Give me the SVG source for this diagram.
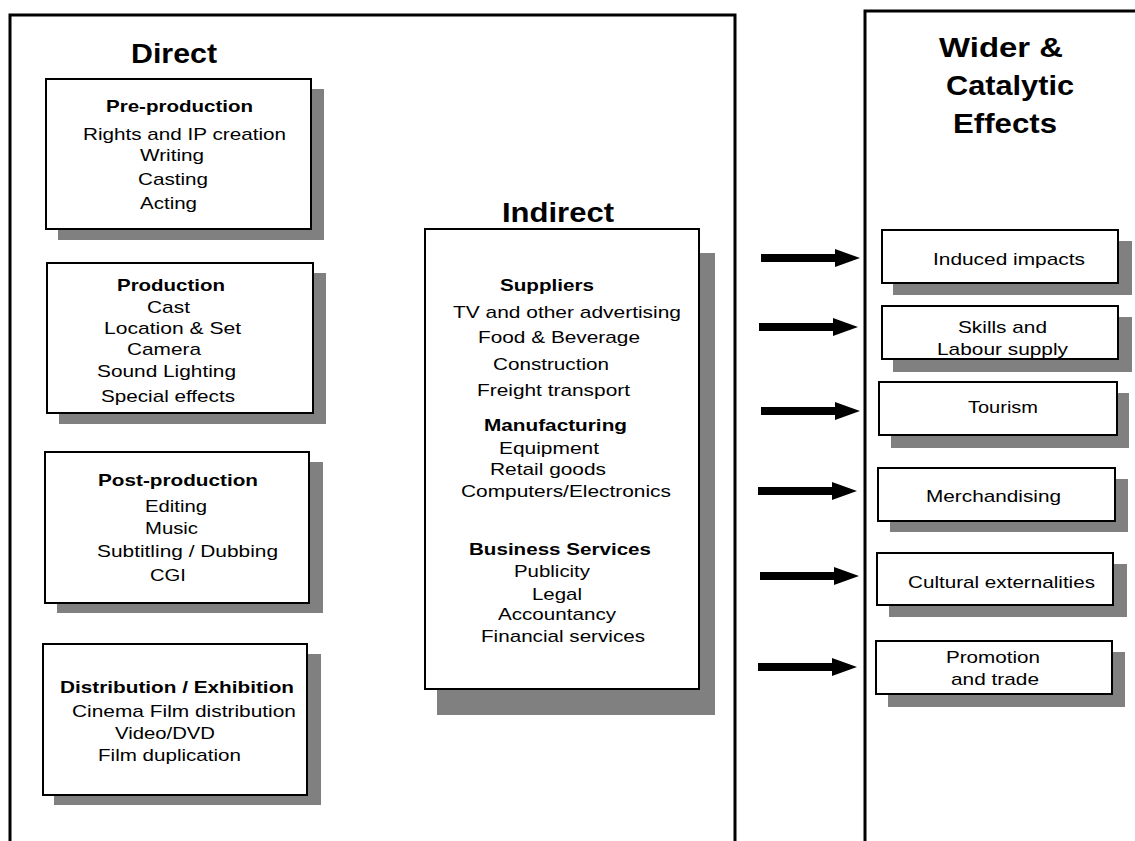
<svg xmlns="http://www.w3.org/2000/svg" width="1135" height="841" viewBox="0 0 1135 841">
<style>
  text { font-family: "Liberation Sans", Arial, sans-serif; fill: #000; }
  .t { font-size: 17px; }
  .b { font-size: 17px; font-weight: bold; }
  .h { font-size: 28px; font-weight: bold; }
  .box { fill: #fff; stroke: #000; stroke-width: 2; }
  .sh { fill: #808080; }
  .frame { fill: none; stroke: #000; stroke-width: 3; }
</style>
<defs>
  <path id="arrow" d="M0,-4 H74 V-9 L99,0 L74,9 V4 H0 Z" fill="#000"/>
</defs>
<rect width="1135" height="841" fill="#fff"/>

<g id="frames">
  <path class="frame" d="M10,841 V15 H735 V841"/>
  <path class="frame" d="M865,841 V11 H1135"/>
</g>

<g id="direct-title">
  <text class="h" x="131" y="63" textLength="86" lengthAdjust="spacingAndGlyphs">Direct</text>
</g>

<g id="pre-production">
  <rect class="sh" x="58" y="89" width="266" height="151"/>
  <rect class="box" x="46" y="79" width="265" height="150"/>
  <text class="b" x="106" y="112" textLength="147" lengthAdjust="spacingAndGlyphs">Pre-production</text>
  <text class="t" x="83" y="140" textLength="203" lengthAdjust="spacingAndGlyphs">Rights and IP creation</text>
  <text class="t" x="140" y="161" textLength="64" lengthAdjust="spacingAndGlyphs">Writing</text>
  <text class="t" x="138" y="185" textLength="70" lengthAdjust="spacingAndGlyphs">Casting</text>
  <text class="t" x="140" y="209" textLength="57" lengthAdjust="spacingAndGlyphs">Acting</text>
</g>

<g id="production">
  <rect class="sh" x="59" y="273" width="267" height="151"/>
  <rect class="box" x="47" y="263" width="266" height="150"/>
  <text class="b" x="117" y="291" textLength="108" lengthAdjust="spacingAndGlyphs">Production</text>
  <text class="t" x="147" y="313" textLength="43" lengthAdjust="spacingAndGlyphs">Cast</text>
  <text class="t" x="104" y="334" textLength="137" lengthAdjust="spacingAndGlyphs">Location &amp; Set</text>
  <text class="t" x="127" y="355" textLength="74" lengthAdjust="spacingAndGlyphs">Camera</text>
  <text class="t" x="97" y="377" textLength="139" lengthAdjust="spacingAndGlyphs">Sound Lighting</text>
  <text class="t" x="101" y="402" textLength="134" lengthAdjust="spacingAndGlyphs">Special effects</text>
</g>

<g id="post-production">
  <rect class="sh" x="57" y="462" width="266" height="151"/>
  <rect class="box" x="45" y="452" width="264" height="151"/>
  <text class="b" x="98" y="486" textLength="160" lengthAdjust="spacingAndGlyphs">Post-production</text>
  <text class="t" x="145" y="512" textLength="62" lengthAdjust="spacingAndGlyphs">Editing</text>
  <text class="t" x="145" y="534" textLength="53" lengthAdjust="spacingAndGlyphs">Music</text>
  <text class="t" x="97" y="557" textLength="181" lengthAdjust="spacingAndGlyphs">Subtitling / Dubbing</text>
  <text class="t" x="150" y="581" textLength="36" lengthAdjust="spacingAndGlyphs">CGI</text>
</g>

<g id="distribution">
  <rect class="sh" x="54" y="654" width="267" height="151"/>
  <rect class="box" x="43" y="644" width="264" height="151"/>
  <text class="b" x="60" y="693" textLength="234" lengthAdjust="spacingAndGlyphs">Distribution / Exhibition</text>
  <text class="t" x="72" y="717" textLength="224" lengthAdjust="spacingAndGlyphs">Cinema Film distribution</text>
  <text class="t" x="115" y="739" textLength="100" lengthAdjust="spacingAndGlyphs">Video/DVD</text>
  <text class="t" x="98" y="761" textLength="143" lengthAdjust="spacingAndGlyphs">Film duplication</text>
</g>

<g id="indirect">
  <text class="h" x="502" y="222" textLength="112" lengthAdjust="spacingAndGlyphs">Indirect</text>
  <rect class="sh" x="437" y="253" width="278" height="462"/>
  <rect class="box" x="425" y="229" width="274" height="460"/>
  <text class="b" x="500" y="291" textLength="94" lengthAdjust="spacingAndGlyphs">Suppliers</text>
  <text class="t" x="453" y="318" textLength="228" lengthAdjust="spacingAndGlyphs">TV and other advertising</text>
  <text class="t" x="478" y="343" textLength="162" lengthAdjust="spacingAndGlyphs">Food &amp; Beverage</text>
  <text class="t" x="493" y="370" textLength="116" lengthAdjust="spacingAndGlyphs">Construction</text>
  <text class="t" x="477" y="396" textLength="153" lengthAdjust="spacingAndGlyphs">Freight transport</text>
  <text class="b" x="484" y="431" textLength="143" lengthAdjust="spacingAndGlyphs">Manufacturing</text>
  <text class="t" x="499" y="454" textLength="100" lengthAdjust="spacingAndGlyphs">Equipment</text>
  <text class="t" x="490" y="475" textLength="116" lengthAdjust="spacingAndGlyphs">Retail goods</text>
  <text class="t" x="461" y="497" textLength="210" lengthAdjust="spacingAndGlyphs">Computers/Electronics</text>
  <text class="b" x="469" y="555" textLength="182" lengthAdjust="spacingAndGlyphs">Business Services</text>
  <text class="t" x="514" y="577" textLength="76" lengthAdjust="spacingAndGlyphs">Publicity</text>
  <text class="t" x="532" y="600" textLength="50" lengthAdjust="spacingAndGlyphs">Legal</text>
  <text class="t" x="498" y="620" textLength="118" lengthAdjust="spacingAndGlyphs">Accountancy</text>
  <text class="t" x="481" y="642" textLength="164" lengthAdjust="spacingAndGlyphs">Financial services</text>
</g>

<g id="wider-title">
  <text class="h" x="939" y="57" textLength="124" lengthAdjust="spacingAndGlyphs">Wider &amp;</text>
  <text class="h" x="946" y="95" textLength="128" lengthAdjust="spacingAndGlyphs">Catalytic</text>
  <text class="h" x="953" y="133" textLength="104" lengthAdjust="spacingAndGlyphs">Effects</text>
</g>

<g id="induced">
  <rect class="sh" x="893" y="241" width="239" height="54"/>
  <rect class="box" x="882" y="230" width="236" height="53"/>
  <text class="t" x="933" y="265" textLength="152" lengthAdjust="spacingAndGlyphs">Induced impacts</text>
</g>
<g id="skills">
  <rect class="sh" x="893" y="317" width="239" height="55"/>
  <rect class="box" x="882" y="306" width="236" height="53"/>
  <text class="t" x="958" y="333" textLength="89" lengthAdjust="spacingAndGlyphs">Skills and</text>
  <text class="t" x="937" y="355" textLength="131" lengthAdjust="spacingAndGlyphs">Labour supply</text>
</g>
<g id="tourism">
  <rect class="sh" x="891" y="393" width="238" height="55"/>
  <rect class="box" x="879" y="382" width="238" height="53"/>
  <text class="t" x="968" y="413" textLength="70" lengthAdjust="spacingAndGlyphs">Tourism</text>
</g>
<g id="merchandising">
  <rect class="sh" x="890" y="479" width="238" height="53"/>
  <rect class="box" x="878" y="468" width="237" height="53"/>
  <text class="t" x="926" y="502" textLength="135" lengthAdjust="spacingAndGlyphs">Merchandising</text>
</g>
<g id="cultural">
  <rect class="sh" x="889" y="564" width="238" height="53"/>
  <rect class="box" x="877" y="553" width="236" height="52"/>
  <text class="t" x="908" y="588" textLength="187" lengthAdjust="spacingAndGlyphs">Cultural externalities</text>
</g>
<g id="promotion">
  <rect class="sh" x="888" y="652" width="237" height="55"/>
  <rect class="box" x="876" y="641" width="236" height="53"/>
  <text class="t" x="946" y="663" textLength="94" lengthAdjust="spacingAndGlyphs">Promotion</text>
  <text class="t" x="951" y="685" textLength="88" lengthAdjust="spacingAndGlyphs">and trade</text>
</g>

<g id="connectors">
  <use href="#arrow" x="761" y="258"/>
  <use href="#arrow" x="759" y="327"/>
  <use href="#arrow" x="761" y="411"/>
  <use href="#arrow" x="758" y="491"/>
  <use href="#arrow" x="760" y="576"/>
  <use href="#arrow" x="758" y="667"/>
</g>
</svg>
